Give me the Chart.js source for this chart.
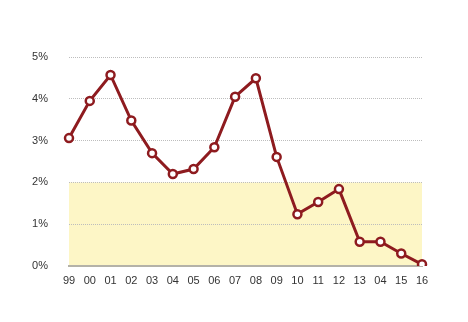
<!DOCTYPE html>
<html>
<head>
<meta charset="utf-8">
<script src="https://cdn.jsdelivr.net/npm/chart.js@4"></script>
<style>
  html, body { margin: 0; padding: 0; background: #fff; }
  #wrap { width: 468px; height: 322px; }
</style>
</head>
<body>
<div id="wrap"><canvas id="chart"></canvas></div>
<script>
// ---- DATA ----
const years = ['99', '00', '01', '02', '03', '04', '05', '06', '07', '08', '09', '10', '11', '12', '13', '04', '15', '16'];
const rates = [3.06, 3.95, 4.57, 3.48, 2.70, 2.20, 2.32, 2.84, 4.05, 4.49, 2.61, 1.24, 1.53, 1.84, 0.58, 0.58, 0.30, 0.04];
const yTicks = [0, 1, 2, 3, 4, 5];
const bandTop = 2; // shaded zone 0% - 2%

// yellow band behind the grid
const bandPlugin = {
  id: 'band',
  beforeDraw(chart) {
    const { ctx, chartArea, scales } = chart;
    const yTop = scales.y.getPixelForValue(bandTop);
    const yBot = scales.y.getPixelForValue(0);
    ctx.save();
    ctx.fillStyle = '#fdf6c6';
    ctx.fillRect(chartArea.left, yTop, chartArea.right - chartArea.left, yBot - yTop);
    ctx.restore();
  }
};

new Chart(document.getElementById('chart'), {
  type: 'line',
  data: {
    labels: years,
    datasets: [{
      data: rates,
      borderColor: '#8e1b1f',
      borderWidth: 3,
      pointRadius: 4,
      pointBorderWidth: 2.5,
      pointBackgroundColor: '#ffffff',
      pointBorderColor: '#8e1b1f',
      tension: 0
    }]
  },
  plugins: [bandPlugin],
  options: {
    responsive: true,
    maintainAspectRatio: false,
    animation: false,
    layout: { padding: { top: 57, left: 29, right: 46, bottom: 20 } },
    plugins: { legend: { display: false }, tooltip: { enabled: false } },
    scales: {
      x: {
        offset: false,
        afterFit: (s) => { s.height = 36; },
        grid: { display: false },
        border: { display: true, color: '#b4b2a8', width: 2 },
        ticks: { color: '#333', font: { family: 'Liberation Sans', size: 11 }, padding: 0, maxRotation: 0, autoSkip: false }
      },
      y: {
        min: 0,
        max: 5,
        afterFit: (s) => { s.width = 40; },
        afterBuildTicks: (s) => { s.ticks = yTicks.map(v => ({ value: v })); },
        grid: { color: '#bdbdbd', lineWidth: 1, drawTicks: false },
        border: { display: false, dash: [1, 1] },
        ticks: { color: '#333', font: { family: 'Liberation Sans', size: 11 }, padding: 21, callback: (v) => v + '%' }
      }
    }
  }
});
</script>
</body>
</html>
